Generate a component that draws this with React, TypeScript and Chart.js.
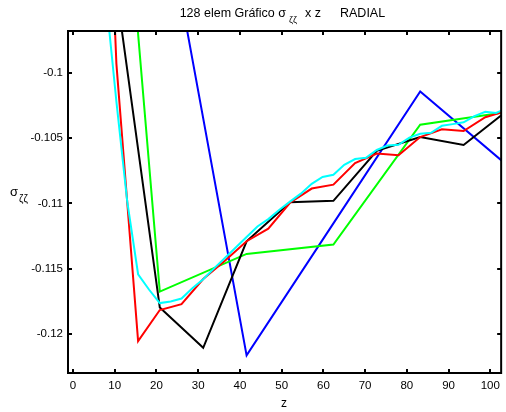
import React, { useEffect, useRef } from "react";
import { Chart, registerables } from "chart.js";
Chart.register(...registerables);

const xTicks = [0, 10, 20, 30, 40, 50, 60, 70, 80, 90, 100];
const yTicks = [-0.12, -0.115, -0.11, -0.105, -0.1];

const xCyan = [0, 2.6, 5.2, 7.8, 10.4, 13.0, 15.6, 18.2, 20.8, 23.4, 26.0, 28.6, 31.2, 33.8, 36.4, 39.0, 41.6, 44.2, 46.8, 49.4, 52.0, 54.6, 57.2, 59.8, 62.4, 65.0, 67.6, 70.2, 72.8, 75.4, 78.0, 80.6, 83.2, 85.8, 88.4, 91.0, 93.6, 96.2, 98.8, 101.4, 104.0];
const yCyan = [-0.05, -0.062, -0.078, -0.0939, -0.1022, -0.10986, -0.11543, -0.1166, -0.11764, -0.11752, -0.11729, -0.1165, -0.11581, -0.11498, -0.11418, -0.11338, -0.11257, -0.11177, -0.1112, -0.1105, -0.10986, -0.10925, -0.1085, -0.10797, -0.1078, -0.10704, -0.1066, -0.1065, -0.1059, -0.10556, -0.1055, -0.10495, -0.10466, -0.10458, -0.10405, -0.10392, -0.10378, -0.1033, -0.10298, -0.10306, -0.10268];

const xRed = [0, 5.2, 10.4, 15.6, 20.8, 26.0, 31.2, 36.4, 41.6, 46.8, 52.0, 57.2, 62.4, 67.6, 72.8, 78.0, 83.2, 88.4, 93.6, 98.8, 104.0];
const yRed = [-0.03, -0.0589, -0.0993, -0.12056, -0.11817, -0.11772, -0.1158, -0.1144, -0.1129, -0.11193, -0.10995, -0.10886, -0.10856, -0.1069, -0.10618, -0.1063, -0.10491, -0.10432, -0.10445, -0.10339, -0.1029];

const xBlack = [0, 10.4, 20.8, 31.2, 41.6, 52.0, 62.4, 72.8, 83.2, 93.6, 104.0];
const yBlack = [-0.06, -0.0937, -0.11798, -0.12107, -0.1129, -0.10991, -0.1098, -0.10597, -0.10491, -0.10552, -0.1029];

const xGreen = [0, 20.8, 41.6, 62.4, 83.2, 104.0];
const yGreen = [-0.0378, -0.11676, -0.11387, -0.11315, -0.10397, -0.103];

const xBlue = [0, 20.8, 41.6, 62.4, 83.2, 104.0];
const yBlue = [-0.0489, -0.0853, -0.12165, -0.11153, -0.10141, -0.10706];

const FONT = "'Liberation Sans', Arial, Helvetica, sans-serif";

const zip = (xs: number[], ys: number[]) => xs.map((x, i) => ({ x, y: ys[i] }));

const framePlugin = {
  id: "frame",
  afterDraw(chart: any) {
    const ctx = chart.ctx;
    const { left, right, top, bottom } = chart.chartArea;
    const xs = chart.scales.x;
    const ys = chart.scales.y;
    ctx.save();
    ctx.strokeStyle = "#000";
    ctx.lineWidth = 2;
    ctx.strokeRect(left, top, right - left, bottom - top);
    const tl = 4;
    ctx.beginPath();
    xTicks.forEach((v) => {
      const px = Math.round(xs.getPixelForValue(v));
      ctx.moveTo(px, bottom);
      ctx.lineTo(px, bottom - tl);
      ctx.moveTo(px, top);
      ctx.lineTo(px, top + tl);
    });
    yTicks.forEach((v) => {
      const py = Math.round(ys.getPixelForValue(v));
      ctx.moveTo(left, py);
      ctx.lineTo(left + tl, py);
      ctx.moveTo(right, py);
      ctx.lineTo(right - tl, py);
    });
    ctx.stroke();

    ctx.fillStyle = "#000";
    ctx.textBaseline = "alphabetic";
    ctx.textAlign = "left";
    // title
    const big = `12.5px ${FONT}`;
    const small = `9px ${FONT}`;
    ctx.font = big;
    const t1 = "128 elem Gráfico σ";
    const w1 = ctx.measureText(t1).width;
    const x0 = 286 - w1;
    ctx.fillText(t1, x0, 17);
    ctx.font = small;
    ctx.fillText("ζζ", 289, 23);
    ctx.font = big;
    ctx.fillText("x z", 305, 17);
    ctx.fillText("RADIAL", 340, 17);

    // y label
    ctx.font = `13px ${FONT}`;
    ctx.fillText("σ", 10, 196);
    const w = ctx.measureText("σ").width;
    ctx.font = `10px ${FONT}`;
    ctx.fillText("ζζ", 11 + w, 202);

    // x label
    ctx.font = `12px ${FONT}`;
    ctx.textAlign = "center";
    ctx.fillText("z", 284, 407);
    ctx.restore();
  },
};

export default function App() {
  const ref = useRef<HTMLCanvasElement | null>(null);
  useEffect(() => {
    document.body.style.margin = "0";
    const canvas = ref.current!;
    const chart = new Chart(canvas, {
      type: "line",
      data: {
        datasets: [
          { data: zip(xCyan, yCyan), borderColor: "#00ffff" },
          { data: zip(xRed, yRed), borderColor: "#ff0000" },
          { data: zip(xBlack, yBlack), borderColor: "#000000" },
          { data: zip(xGreen, yGreen), borderColor: "#00ff00" },
          { data: zip(xBlue, yBlue), borderColor: "#0000ff" },
        ],
      },
      options: {
        animation: false,
        responsive: false,
        maintainAspectRatio: false,
        layout: { padding: { top: 31, right: 4, left: 0, bottom: 0 } },
        plugins: {
          legend: { display: false },
          title: { display: false },
          tooltip: { enabled: false },
        },
        elements: {
          point: { radius: 0 },
          line: { borderWidth: 2, tension: 0, fill: false },
        },
        scales: {
          x: {
            type: "linear",
            min: -1.2,
            max: 102.6,
            grid: { display: false, drawTicks: false },
            border: { display: false },
            afterBuildTicks: (s: any) => {
              s.ticks = xTicks.map((v) => ({ value: v }));
            },
            afterFit: (s: any) => {
              s.height = 39;
            },
            ticks: {
              autoSkip: false,
              maxRotation: 0,
              padding: 6,
              color: "#000",
              font: { family: FONT, size: 11.5 },
              callback: (v: any) => String(v),
            },
          },
          y: {
            type: "linear",
            min: -0.1230,
            max: -0.09678,
            grid: { display: false, drawTicks: false },
            border: { display: false },
            afterBuildTicks: (s: any) => {
              s.ticks = yTicks.map((v) => ({ value: v }));
            },
            afterFit: (s: any) => {
              s.width = 68;
            },
            ticks: {
              autoSkip: false,
              padding: 5,
              color: "#000",
              font: { family: FONT, size: 11.5 },
              callback: (v: any) => String(Number(Number(v).toFixed(3))),
            },
          },
        },
      },
      plugins: [framePlugin],
    });
    return () => chart.destroy();
  }, []);
  return <canvas ref={ref} width={506} height={412} style={{ display: "block" }} />;
}
